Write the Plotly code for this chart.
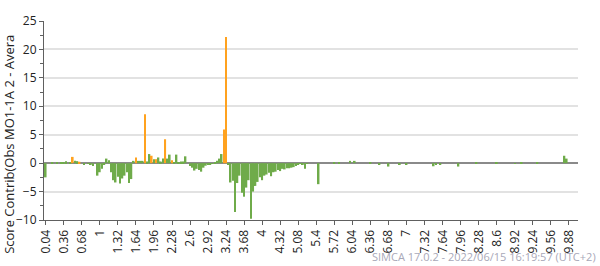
import plotly.graph_objects as go

# Tick labels (every 8th variable, ppm)
tick_labels = ["0.04", "0.36", "0.68", "1", "1.32", "1.64", "1.96", "2.28", "2.6", "2.92",
               "3.24", "3.68", "4", "4.32", "5.08", "5.4", "5.72", "6.04", "6.36", "6.68",
               "7", "7.32", "7.64", "7.96", "8.28", "8.6", "8.92", "9.24", "9.56", "9.88"]

# Score contribution per variable (index order)
contrib = [
    -2.5, 0.0, 0.0, 0.1, 0.0, 0.2, 0.0, 0.1, 0.1, 0.35,       # 0-9
    0.0, 0.1, 1.1, 0.4, 0.35, 0.25, 0.0, -0.3, 0.0, -0.1,     # 10-19
    -0.2, -0.5, 0.0, -2.2, -1.6, -1.0, -0.3, 0.8, 0.5, -1.6,  # 20-29
    -3.0, -3.4, -2.4, -3.6, -2.7, -2.2, -1.6, -3.5, -2.8, 0.4,  # 30-39
    1.0, 0.4, 0.4, 0.4, 8.6, 0.3, 1.6, 1.3, 0.7, 0.7,         # 40-49
    1.0, 0.3, 0.8, 4.2, 0.8, 1.5, 0.5, 0.2, 1.5, 0.2,         # 50-59
    0.3, 0.3, 1.2, 0.0, -0.5, -0.8, -1.3, -1.0, -1.2, -1.5,   # 60-69
    -0.8, -0.45, -0.2, -0.25, -0.1, 0.1, 0.4, 0.8, 1.6, 5.9,  # 70-79
    22.2, -0.2, -3.4, -3.1, -8.6, -3.5, -2.2, -5.2, -5.9, -4.3,  # 80-89
    -3.0, -9.8, -5.0, -4.0, -3.3, -2.5, -3.0, -2.2, -2.0, -1.7,  # 90-99
    -2.3, -1.6, -1.5, -1.2, -1.4, -1.0, -1.1, -0.9, -0.9, -0.8,  # 100-109
    -0.7, -0.5, -0.3, -0.1, -0.3, -1.0, -0.1, 0.0, 0.0, 0.0,  # 110-119
    0.0, -3.7, 0.0, 0.0, 0.0, 0.0, 0.0, 0.0, 0.1, 0.0,        # 120-129
    0.2, 0.0, 0.0, 0.0, 0.0, 0.4, 0.0, 0.4, 0.0, 0.0,         # 130-139
    0.0, 0.0, 0.0, 0.0, 0.1, 0.0, 0.0, 0.0, -0.2, 0.0,        # 140-149
    0.0, 0.0, -0.6, 0.0, 0.0, 0.0, 0.0, -0.3, 0.0, 0.0,       # 150-159
    -0.2, 0.0, 0.0, 0.0, 0.0, 0.0, 0.0, 0.0, 0.0, 0.0,        # 160-169
    0.0, 0.0, -0.55, -0.3, 0.0, -0.3, 0.0, 0.0, 0.0, 0.0,     # 170-179
    0.0, 0.0, 0.0, -0.6, 0.0, 0.0, 0.0, 0.0, 0.0, 0.0,        # 180-189
    0.0, 0.05, 0.0, 0.0, 0.0, 0.0, 0.0, 0.0, 0.0, 0.0,        # 190-199
    0.2, 0.0, 0.0, 0.0, 0.0, 0.0, 0.0, 0.0, -0.1, 0.0,        # 200-209
    0.0, 0.1, 0.0, 0.0, 0.0, 0.0, 0.0, 0.0, 0.15, 0.0,        # 210-219
    0.0, 0.0, 0.0, 0.0, 0.0, 0.0, 0.0, 0.0, 0.0, 0.0,         # 220-229
    1.3, 0.8, 0.0, 0.0, 0.0, 0.0,                             # 230-235
]

# Variables highlighted in orange
highlighted = [12, 15, 40, 44, 47, 49, 53, 56, 79, 80]

GREEN = "#6FAB4A"
ORANGE = "#FFA21F"

idx = list(range(len(contrib)))
colors = [ORANGE if i in highlighted else GREEN for i in idx]
tickvals = [8 * k for k in range(len(tick_labels))]

FONT = "Segoe UI, Open Sans, Noto Sans, sans-serif"

fig = go.Figure()
fig.add_trace(go.Bar(x=idx, y=contrib, marker=dict(color=colors, line=dict(width=0)),
                     showlegend=False))

fig.update_layout(
    width=600, height=266,
    margin=dict(l=44, r=22, t=13, b=45),
    paper_bgcolor="white", plot_bgcolor="white",
    bargap=0.25,
    font=dict(family=FONT, size=12, color="#222"),
    xaxis=dict(
        range=[-0.75, 236],
        tickmode="array", tickvals=tickvals, ticktext=tick_labels,
        tickangle=-90, tickfont=dict(size=12, color="#222"),
        showgrid=False, zeroline=False,
        showline=True, linecolor="#606060", linewidth=1,
        ticks="outside", ticklen=4, tickcolor="#606060",
    ),
    yaxis=dict(
        range=[-10, 25], dtick=5, tick0=0,
        tickfont=dict(size=12, color="#222"),
        showgrid=True, gridcolor="#e2e2e2", gridwidth=1.5,
        zeroline=True, zerolinecolor="#8a8a8a", zerolinewidth=2,
        showline=True, linecolor="#606060", linewidth=1,
        ticks="outside", ticklen=4, tickcolor="#606060",
        minor=dict(dtick=2.5, ticks="outside", ticklen=3, tickcolor="#606060", showgrid=False),
    ),
    annotations=[
        dict(text="Score Contrib(Obs MO1-1A 2 - Avera", textangle=-90,
             xref="paper", yref="paper", x=(9 - 44) / 534, y=(221 - 259) / 208,
             xanchor="center", yanchor="bottom", showarrow=False,
             font=dict(size=13, color="#222", family=FONT)),
        dict(text="SIMCA 17.0.2 - 2022/06/15 16:19:57 (UTC+2)",
             xref="paper", yref="paper", x=(598 - 44) / 534, y=(221 - 259) / 208,
             xanchor="right", yanchor="middle", showarrow=False,
             font=dict(size=11, color="#a8a8b8", family=FONT)),
    ],
)

fig.write_html("out.html")
